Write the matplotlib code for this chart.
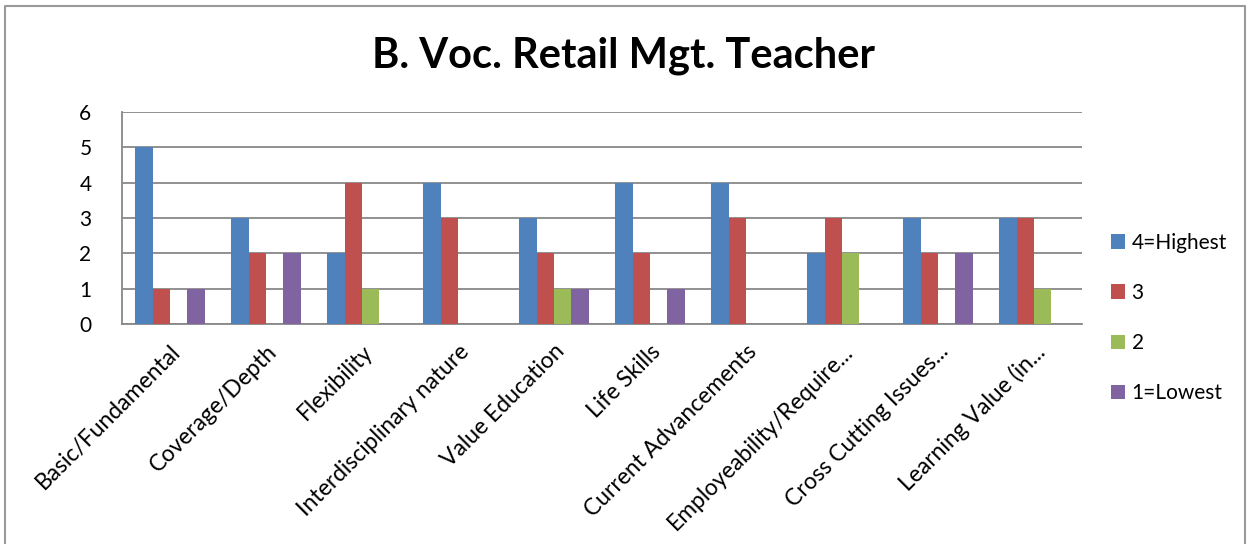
import matplotlib.pyplot as plt
import numpy as np
from matplotlib.lines import Line2D

plt.rcParams['font.family'] = ['Lato', 'DejaVu Sans']

categories = ['Basic/Fundamental', 'Coverage/Depth', 'Flexibility',
              'Interdisciplinary nature', 'Value Education', 'Life Skills',
              'Current Advancements', 'Employeability/Require...',
              'Cross Cutting Issues...', 'Learning Value (in...']
highest = [5, 3, 2, 4, 3, 4, 4, 2, 3, 3]
three = [1, 2, 4, 3, 2, 2, 3, 3, 2, 3]
two = [0, 0, 1, 0, 1, 0, 0, 2, 0, 1]
lowest = [1, 2, 0, 0, 1, 1, 0, 0, 2, 0]
series_names = ['4=Highest', '3', '2', '1=Lowest']
colors = ['#4F81BD', '#C0504D', '#9BBB59', '#8064A2']

fig = plt.figure(figsize=(12.48, 5.44), dpi=100)
ax = fig.add_axes([122 / 1248, 1 - 324 / 544, 960 / 1248, 212 / 544])

x = np.arange(len(categories))
w = 0.18
for i, vals in enumerate([highest, three, two, lowest]):
    ax.bar(x + (i - 1.5) * w, vals, w, color=colors[i], label=series_names[i],
           zorder=3)

ax.set_xlim(-0.5, len(categories) - 0.5)
ax.set_ylim(0, 6)
ax.set_yticks(range(7))
ax.yaxis.grid(True, color='#888888', linewidth=1.3, zorder=0)
for s in ['top', 'right']:
    ax.spines[s].set_visible(False)
for s in ['left', 'bottom']:
    ax.spines[s].set_color('#888888')
    ax.spines[s].set_linewidth(1.3)
ax.tick_params(axis='y', length=0, labelsize=15, pad=22)
ax.tick_params(axis='x', length=0, labelsize=16.5, pad=12)
ax.set_xticks(x)
ax.set_xticklabels(categories, rotation=45, ha='right', rotation_mode='anchor')

fig.text(0.5, 1 - 56 / 544, 'B. Voc. Retail Mgt. Teacher', ha='center',
         va='center', fontsize=30, fontweight='bold')

fig.legend(loc='center left', bbox_to_anchor=(1092 / 1248, 1 - 318 / 544),
           frameon=False, fontsize=15, handlelength=0.7, handleheight=0.7,
           labelspacing=1.45, handletextpad=0.3)

# chart border (left, top, right)
bx = [5 / 1248, 5 / 1248, 1245 / 1248, 1245 / 1248]
by = [0, 1 - 6 / 544, 1 - 6 / 544, 0]
fig.add_artist(Line2D(bx, by, transform=fig.transFigure, color='#999999',
                      linewidth=1.5))

fig.savefig('out.png', dpi=100)
